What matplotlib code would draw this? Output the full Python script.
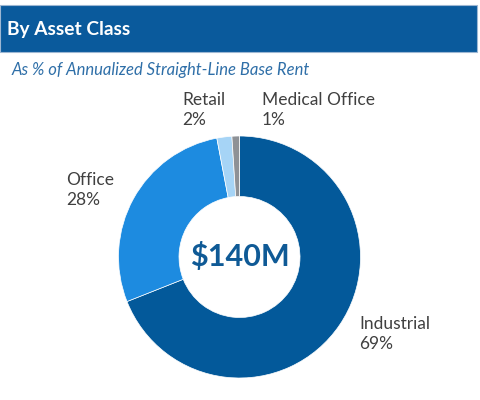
import matplotlib
matplotlib.use("Agg")
import matplotlib.pyplot as plt
from matplotlib.patches import Rectangle

categories = ["Industrial", "Office", "Retail", "Medical Office"]
values = [69, 28, 2, 1]
colors = ["#03599A", "#1D8BE0", "#A6D4F6", "#8E9196"]
total_label = "$140M"
title = "By Asset Class"
subtitle = "As % of Annualized Straight-Line Base Rent"

W, H = 480, 400
fig = plt.figure(figsize=(W / 100, H / 100), dpi=100)
fig.patch.set_facecolor("white")
FONT = ["Lato", "DejaVu Sans"]

def fx(x):
    return x / W

def fy(y):
    return 1 - y / H

# header bar
fig.patches.append(Rectangle((fx(0), fy(52)), fx(477), 47 / H, transform=fig.transFigure,
                             facecolor="#0A5A9C", edgecolor="#9DB7D3", linewidth=0.8, zorder=0))
fig.text(fx(7), fy(29), title, color="white", fontsize=13.8, fontweight="bold",
         family=FONT, va="center", ha="left")
fig.text(fx(12), fy(70), subtitle, color="#2F6FA8", fontsize=12, style="italic",
         family=FONT, va="center", ha="left")

# donut
cx, cy, r = 239.5, 257, 121
ax = fig.add_axes([fx(cx - r), fy(cy + r), 2 * r / W, 2 * r / H])
ax.pie(values, colors=colors, startangle=90, counterclock=False, radius=1,
       wedgeprops=dict(width=0.5, edgecolor="white", linewidth=0.5))
ax.set_xlim(-1, 1)
ax.set_ylim(-1, 1)
ax.set_aspect("equal")
ax.axis("off")
ax.text(0, 0, total_label, ha="center", va="center", fontsize=22, fontweight="bold",
        color="#0F5A96", family=FONT)

# labels
label_pos = {
    "Industrial": (359, 334),
    "Office": (66, 190),
    "Retail": (182, 110),
    "Medical Office": (262, 110),
}
for cat, v in zip(categories, values):
    x, y = label_pos[cat]
    fig.text(fx(x), fy(y), f"{cat}\n{v}%", ha="left", va="center", fontsize=12.5,
             color="#404040", family=FONT, linespacing=1.32)

fig.savefig("out.png", dpi=100, facecolor="white")
